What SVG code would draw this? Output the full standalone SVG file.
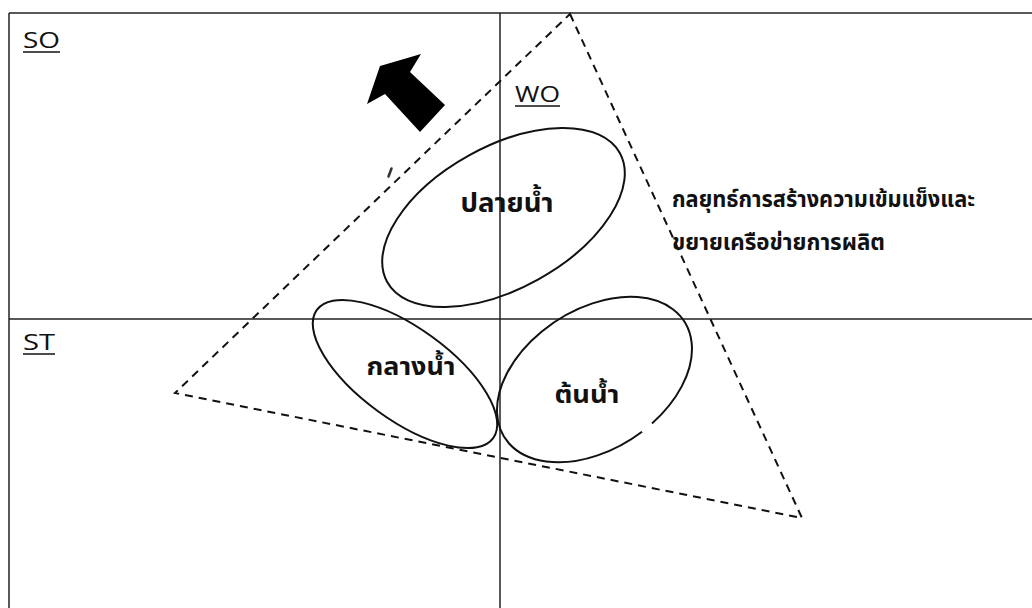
<svg xmlns="http://www.w3.org/2000/svg" width="1032" height="608" viewBox="0 0 1032 608">
<style>
.frame{stroke:#222;stroke-width:1.5;fill:none}
.ell{stroke:#111;stroke-width:2;fill:none}
.dash{stroke:#111;stroke-width:2;fill:none;stroke-dasharray:8 6}
.lbl{font-family:"Open Sans","DejaVu Sans",sans-serif;font-size:22px;fill:#111}
.ul{stroke:#111;stroke-width:1.5}
.th{font-family:"Noto Sans Thai","Noto Sans","DejaVu Sans",sans-serif;font-weight:bold;fill:#111}
</style>
<rect width="1032" height="608" fill="#fff"/>
<g id="axes">
<line class="frame" x1="9" y1="13" x2="1032" y2="13"/>
<line class="frame" x1="9" y1="13" x2="9" y2="608"/>
<line class="frame" x1="500" y1="13" x2="500" y2="608"/>
<line class="frame" x1="9" y1="319" x2="1032" y2="319"/>
</g>
<g id="label-so"><text class="lbl" x="23" y="48" textLength="37" lengthAdjust="spacingAndGlyphs">SO</text><line class="ul" x1="23" y1="52" x2="60" y2="52"/></g>
<g id="label-wo"><text class="lbl" x="515" y="102" textLength="45" lengthAdjust="spacingAndGlyphs">WO</text><line class="ul" x1="515" y1="106" x2="560" y2="106"/></g>
<g id="label-st"><text class="lbl" x="23" y="350" textLength="32" lengthAdjust="spacingAndGlyphs">ST</text><line class="ul" x1="23" y1="354" x2="55" y2="354"/></g>
<g id="connectors">
<polygon class="dash" points="570,14 802,518 175,393"/>
</g>
<g id="arrow">
<polygon points="380,66 421,54 410,72 445,105 420,132 385,94 367,104" fill="#000"/>
<line x1="391.5" y1="168.5" x2="388.5" y2="176.5" stroke="#333" stroke-width="2.5" stroke-linecap="round"/>
</g>
<g id="node-downstream">
<ellipse class="ell" cx="503.5" cy="217.5" rx="133" ry="71" transform="rotate(-29 503.5 217.5)"/>
<text class="th" x="507" y="212" font-size="27" text-anchor="middle" textLength="93" lengthAdjust="spacingAndGlyphs">ปลายน้ำ</text>
</g>
<g id="node-midstream">
<ellipse class="ell" cx="405" cy="374" rx="109" ry="46" transform="rotate(36 405 374)"/>
<text class="th" x="411" y="375" font-size="24" text-anchor="middle" textLength="89" lengthAdjust="spacingAndGlyphs">กลางน้ำ</text>
</g>
<g id="node-upstream">
<path class="ell" d="M 652.0 423.5 A 107 70 -33 1 0 642.0 431.7"/>
<text class="th" x="587" y="403" font-size="24" text-anchor="middle" textLength="65" lengthAdjust="spacingAndGlyphs">ต้นน้ำ</text>
</g>
<g id="strategy-label">
<text class="th" x="672" y="207" font-size="23" textLength="303" lengthAdjust="spacingAndGlyphs">กลยุทธ์การสร้างความเข้มแข็งและ</text>
<text class="th" x="672" y="250" font-size="23" textLength="213" lengthAdjust="spacingAndGlyphs">ขยายเครือข่ายการผลิต</text>
</g>
</svg>
